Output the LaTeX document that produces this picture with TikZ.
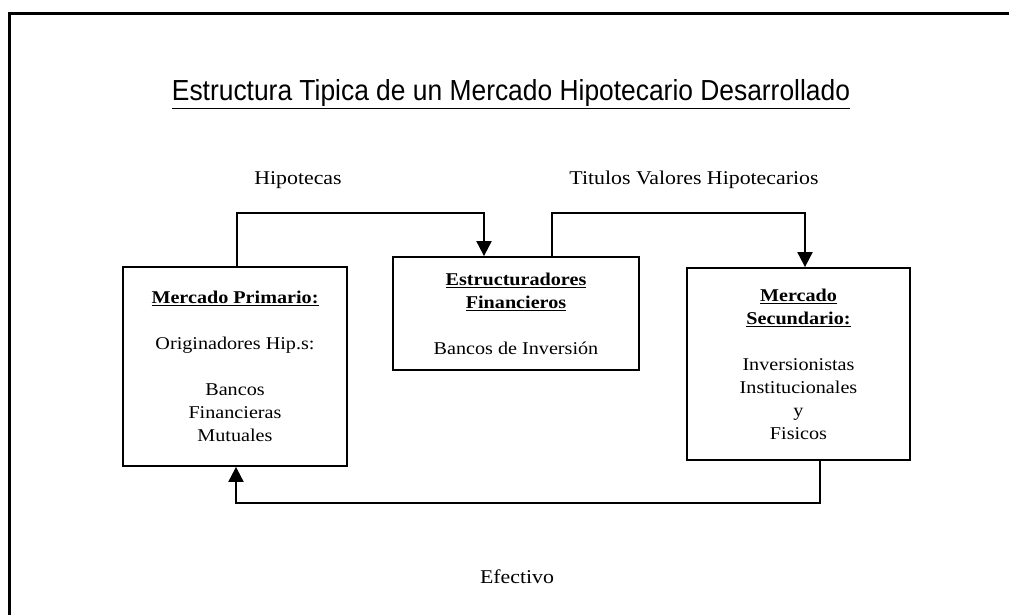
\documentclass[tikz,border=0pt]{standalone}
\usepackage{fontspec}
\setmainfont{Liberation Serif}[FakeStretch=1.12]
\newfontfamily\titlefont{Liberation Sans}[FakeStretch=0.91]
\usetikzlibrary{arrows.meta}
\begin{document}
\begin{tikzpicture}[x=1pt,y=-1pt,
  box/.style={draw, line width=1.8pt, align=center, inner sep=0pt, font=\fontsize{18}{23}\selectfont},
  lbl/.style={font=\fontsize{19.5}{22}\selectfont, inner sep=0pt},
  conn/.style={line width=2pt, -{Triangle[length=15pt,width=15pt]}}]
\useasboundingbox (0,0) rectangle (1009,614);
\fill[white] (0,0) rectangle (1009,614);
\draw[line width=3pt] (9,640) -- (9,13) -- (1020,13);
\node[font=\titlefont\fontsize{29}{32}\selectfont, inner sep=0pt] (title) at (511,94) {\underline{Estructura Tipica de un Mercado Hipotecario Desarrollado}};
\node[box, minimum width=224pt, minimum height=199pt] (prim) at (235,366.5)
  {\textbf{\underline{Mercado Primario:}}\\[23pt] Originadores Hip.s:\\[23pt] Bancos\\ Financieras\\ Mutuales};
\node[box, minimum width=246pt, minimum height=113pt] (mid) at (516,313.5)
  {\textbf{\underline{Estructuradores}}\\ \textbf{\underline{Financieros}}\\[23pt] Bancos de Inversión};
\node[box, minimum width=223pt, minimum height=192pt] (sec) at (798.5,364)
  {\textbf{\underline{Mercado}}\\ \textbf{\underline{Secundario:}}\\[23pt] Inversionistas\\ Institucionales\\ y\\ Fisicos};
\node[lbl] (hip) at (298,180) {Hipotecas};
\node[lbl] (tit) at (694,180) {Titulos Valores Hipotecarios};
\node[lbl] (efe) at (517,577) {Efectivo};
\coordinate (p1) at ([xshift=2pt]prim.north);
\coordinate (m1) at ([xshift=-32pt]mid.north);
\coordinate (m2) at ([xshift=36pt]mid.north);
\coordinate (s1) at ([xshift=6.5pt]sec.north);
\coordinate (s2) at ([xshift=21.5pt]sec.south);
\coordinate (p2) at ([xshift=1pt]prim.south);
\coordinate (ytop) at (0,213);
\coordinate (ybot) at (0,503);
\draw[conn] (p1) -- (p1 |- ytop) -- (m1 |- ytop) -- (m1);
\draw[conn] (m2) -- (m2 |- ytop) -- (s1 |- ytop) -- (s1);
\draw[conn] (s2) -- (s2 |- ybot) -- (p2 |- ybot) -- (p2);
\end{tikzpicture}
\end{document}
